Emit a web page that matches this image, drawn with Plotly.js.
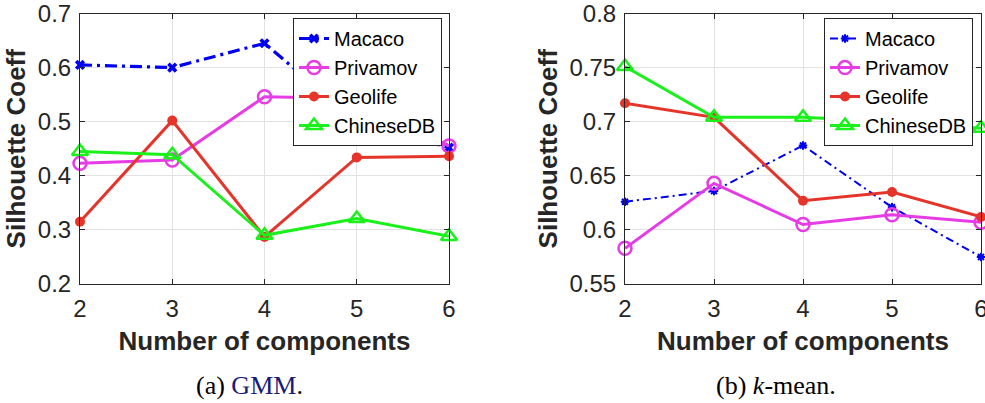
<!DOCTYPE html>
<html>
<head>
<meta charset="utf-8">
<script src="https://cdn.plot.ly/plotly-3.0.1.min.js"></script>
<style>html,body{margin:0;padding:0;background:#fff;}#chart{width:985px;height:403px;}</style>
</head>
<body>
<div id="chart"></div>
<script>
// ---- data ----
const components = [2, 3, 4, 5, 6];
const seriesNames = ["Macaco", "Privamov", "Geolife", "ChineseDB"];
const gmmMacaco    = [0.605, 0.600, 0.645, 0.500, 0.452];
const gmmPrivamov  = [0.423, 0.429, 0.546, 0.543, 0.455];
const gmmGeolife   = [0.315, 0.502, 0.287, 0.434, 0.436];
const gmmChineseDB = [0.445, 0.439, 0.290, 0.321, 0.288];
const kmMacaco     = [0.626, 0.636, 0.678, 0.621, 0.575];
const kmPrivamov   = [0.583, 0.643, 0.605, 0.614, 0.607];
const kmGeolife    = [0.717, 0.704, 0.627, 0.635, 0.612];
const kmChineseDB  = [0.751, 0.704, 0.704, 0.700, 0.694];
const xTicks = [2, 3, 4, 5, 6];
const gmmYTicks = [0.2, 0.3, 0.4, 0.5, 0.6, 0.7];
const kmYTicks = [0.55, 0.6, 0.65, 0.7, 0.75, 0.8];
const captionA = "(a) <span style='color:#1a1a7a'>GMM</span>.";
const captionB = "(b) <i>k</i>-mean.";

// ---- styles ----
const BLUE = "#0000f0", MAG = "#e63ce6", RED = "#e5352b", GRN = "#1af01a";
const TXT = "#262626";
const EPS = 1e-6;

function mk(name, y, xa, ya, leg, line, marker) {
  return {x: components, y: y, name: name, type: "scatter", mode: "lines+markers",
    xaxis: xa, yaxis: ya, legend: leg, cliponaxis: false, line: line, marker: marker};
}
const traces = [
  mk(seriesNames[0], gmmMacaco, "x", "y", "legend",
     {color: BLUE, width: 3.2, dash: "12px,5px,3px,5px"},
     {symbol: "x", size: 9, color: BLUE}),
  mk(seriesNames[1], gmmPrivamov, "x", "y", "legend",
     {color: MAG, width: 3}, {symbol: "circle-open", size: 13, color: MAG, line: {width: 2.5, color: MAG}}),
  mk(seriesNames[2], gmmGeolife, "x", "y", "legend",
     {color: RED, width: 3}, {symbol: "circle", size: 10, color: RED}),
  mk(seriesNames[3], gmmChineseDB, "x", "y", "legend",
     {color: GRN, width: 3}, {symbol: "triangle-up-open", size: 14, color: GRN, line: {width: 2.5, color: GRN}}),
  mk(seriesNames[0], kmMacaco, "x2", "y2", "legend2",
     {color: BLUE, width: 2, dash: "8px,4px,2px,4px"},
     {symbol: "asterisk-open", size: 7, color: BLUE, line: {width: 2, color: BLUE}}),
  mk(seriesNames[1], kmPrivamov, "x2", "y2", "legend2",
     {color: MAG, width: 3}, {symbol: "circle-open", size: 13, color: MAG, line: {width: 2.5, color: MAG}}),
  mk(seriesNames[2], kmGeolife, "x2", "y2", "legend2",
     {color: RED, width: 3}, {symbol: "circle", size: 10, color: RED}),
  mk(seriesNames[3], kmChineseDB, "x2", "y2", "legend2",
     {color: GRN, width: 3}, {symbol: "triangle-up-open", size: 14, color: GRN, line: {width: 2.5, color: GRN}})
];

const tickFont = {family: "Liberation Sans, Arial, sans-serif", size: 24, color: TXT};
const titleFont = {family: "Liberation Sans, Arial, sans-serif", size: 26, color: TXT, weight: "bold"};
function xax(domain, anchor) {
  return {domain: domain, anchor: anchor, range: [2 - EPS, 6 + EPS], tickvals: xTicks, ticktext: xTicks.map(String),
    ticks: "inside", ticklen: 5, tickcolor: TXT, showline: true, linecolor: TXT, linewidth: 1, mirror: "ticks",
    showgrid: true, gridcolor: "#e2e2e2", zeroline: false, tickfont: tickFont, ticklabelstandoff: 3,
    ticklabeloverflow: "allow",
    title: {text: "Number of components", font: titleFont, standoff: 11}};
}
function yax(domain, anchor, range, tv) {
  return {domain: domain, anchor: anchor, range: [range[0] - EPS, range[1] + EPS], tickvals: tv, ticktext: tv.map(String),
    ticks: "inside", ticklen: 5, tickcolor: TXT, showline: true, linecolor: TXT, linewidth: 1, mirror: "ticks",
    showgrid: true, gridcolor: "#e2e2e2", zeroline: false, tickfont: tickFont, ticklabelstandoff: 3,
    ticklabeloverflow: "allow",
    title: {text: "Silhouette Coeff", font: titleFont, standoff: 4}};
}
const legFont = {family: "Liberation Sans, Arial, sans-serif", size: 20, color: "#000"};
const yDom = [(403 - 284) / 403, (403 - 13.5) / 403];
const layout = {
  width: 985, height: 403, margin: {l: 0, r: 0, t: 0, b: 0}, paper_bgcolor: "#fff", plot_bgcolor: "#fff",
  showlegend: true,
  xaxis: xax([80 / 985, 449 / 985], "y"),
  yaxis: yax(yDom, "x", [0.2, 0.7], gmmYTicks),
  xaxis2: xax([625 / 985, 981 / 985], "y2"),
  yaxis2: yax(yDom, "x2", [0.55, 0.8], kmYTicks),
  legend: {x: 293 / 985, y: 1 - 18 / 403, xanchor: "left", yanchor: "top", bgcolor: "#fff",
    bordercolor: TXT, borderwidth: 1, font: legFont, itemwidth: 30, tracegroupgap: 0},
  legend2: {x: 824 / 985, y: 1 - 18 / 403, xanchor: "left", yanchor: "top", bgcolor: "#fff",
    bordercolor: TXT, borderwidth: 1, font: legFont, itemwidth: 30, tracegroupgap: 0},
  annotations: [
    {text: captionA, xref: "paper", yref: "paper", x: 249.5 / 985, y: (403 - 385) / 403, xanchor: "center", yanchor: "middle",
     showarrow: false, font: {family: "Liberation Serif, Times New Roman, serif", size: 26, color: "#000"}},
    {text: captionB, xref: "paper", yref: "paper", x: 775.5 / 985, y: (403 - 385) / 403, xanchor: "center", yanchor: "middle",
     showarrow: false, font: {family: "Liberation Serif, Times New Roman, serif", size: 26, color: "#000"}}
  ]
};
Plotly.newPlot("chart", traces, layout, {staticPlot: true, displayModeBar: false});
</script>
</body>
</html>
